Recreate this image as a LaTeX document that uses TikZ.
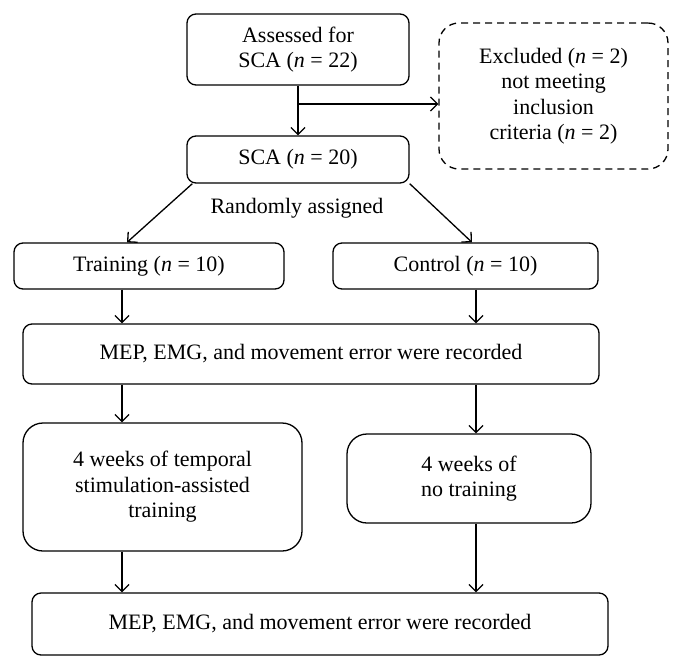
\documentclass[tikz,border=0pt]{standalone}
\usepackage{fontspec}
\setmainfont{Liberation Serif}
\usetikzlibrary{arrows.meta}
\begin{document}
\begin{tikzpicture}[x=1pt,y=-1pt,
  txt/.style={font=\fontsize{22}{25.5}\selectfont},
  box/.style={draw, line width=1.3pt, rounded corners=9pt, align=center, inner sep=0pt, txt},
  bigbox/.style={box, rounded corners=20pt},
  dbox/.style={box, rounded corners=20pt, dash pattern=on 7pt off 5pt},
  arr/.style={-{Straight Barb[length=7pt,width=14pt]}, line width=1.3pt}]
\useasboundingbox (0,0) rectangle (682,670);
\node[box, minimum width=222pt, minimum height=71pt] (assess) at (298,49.5) {Assessed for\\SCA (\textit{n} = 22)};
\node[dbox, minimum width=229pt, minimum height=146pt] (excl) at (553.5,96) {Excluded (\textit{n} = 2)\\not meeting\\inclusion\\criteria (\textit{n} = 2)};
\node[box, minimum width=222pt, minimum height=47pt] (sca) at (298,159.5) {SCA (\textit{n} = 20)};
\node[txt] (rand) at (297,208) {Randomly assigned};
\node[box, minimum width=270pt, minimum height=46pt] (train) at (149,266) {Training (\textit{n} = 10)};
\node[box, minimum width=265pt, minimum height=46pt] (ctrl) at (465.5,266) {Control (\textit{n} = 10)};
\node[box, minimum width=576pt, minimum height=60pt] (mep1) at (311,354) {MEP, EMG, and movement error were recorded};
\node[bigbox, minimum width=279pt, minimum height=128pt] (stim) at (162.5,487) {4 weeks of temporal\\stimulation-assisted\\training};
\node[bigbox, minimum width=244pt, minimum height=89pt] (none) at (469,478.5) {4 weeks of\\no training};
\node[box, minimum width=576pt, minimum height=62pt] (mep2) at (320,624) {MEP, EMG, and movement error were recorded};
\coordinate (xl) at (122,0);
\coordinate (xr) at (476,0);
\coordinate (br) at (298,104);
\draw[arr] (assess.south) -- (sca.north);
\draw[arr] (br) -- (br -| excl.west);
\draw[arr] ([xshift=6pt]sca.south west) -- ([xshift=-22pt]train.north);
\draw[arr] (sca.south east) -- ([xshift=6.5pt]ctrl.north);
\draw[arr] (train.south -| xl) -- (mep1.north -| xl);
\draw[arr] (ctrl.south -| xr) -- (mep1.north -| xr);
\draw[arr] (mep1.south -| xl) -- (stim.north -| xl);
\draw[arr] (mep1.south -| xr) -- (none.north -| xr);
\draw[arr] (stim.south -| xl) -- (mep2.north -| xl);
\draw[arr] (none.south -| xr) -- (mep2.north -| xr);
\end{tikzpicture}
\end{document}
